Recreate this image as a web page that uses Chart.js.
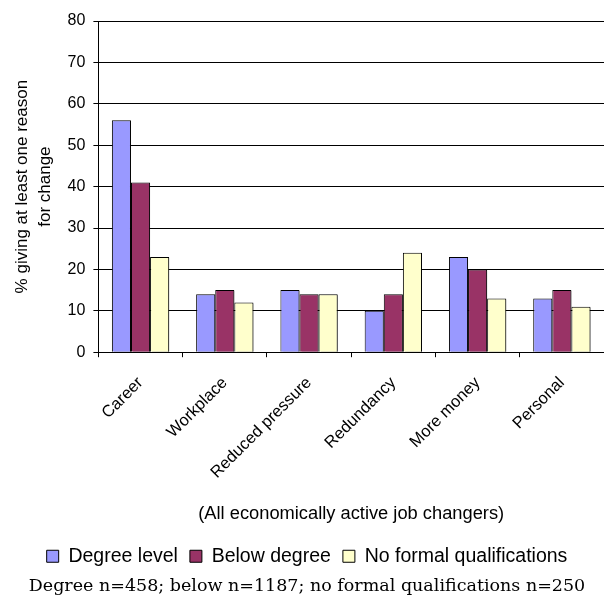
<!DOCTYPE html>
<html>
<head>
<meta charset="utf-8">
<script src="https://cdn.jsdelivr.net/npm/chart.js@4"></script>
<style>
  html, body { margin: 0; padding: 0; background: #fff; }
  #wrap { width: 604px; height: 597px; }
</style>
</head>
<body>
<div id="wrap"><canvas id="chart"></canvas></div>
<script>
const categorias = ["Career", "Workplace", "Reduced pressure", "Redundancy", "More money", "Personal"];
const grau = [56, 14, 15, 10, 23, 13];
const abaixoGrau = [41, 15, 14, 14, 20, 15];
const semQualificacao = [23, 12, 14, 24, 13, 11];
const yTicks = [0, 10, 20, 30, 40, 50, 60, 70, 80];

const sans = "'Liberation Sans', Arial, sans-serif";
const preto = "#000000";

// sombra cinza nas barras, como no gráfico original
const sombra = {
  id: "sombra",
  beforeDatasetsDraw(chart) {
    const ctx = chart.ctx;
    ctx.save();
    ctx.shadowColor = "rgba(0,0,0,0.35)";
    ctx.shadowOffsetX = 2;
    ctx.shadowOffsetY = 1;
    ctx.shadowBlur = 0;
  },
  afterDatasetsDraw(chart) {
    chart.ctx.restore();
  }
};

new Chart(document.getElementById("chart"), {
  type: "bar",
  data: {
    labels: categorias,
    datasets: [
      {
        label: "Degree level",
        data: grau,
        backgroundColor: "#9999ff",
        borderColor: preto,
        borderWidth: 1
      },
      {
        label: "Below degree",
        data: abaixoGrau,
        backgroundColor: "#993366",
        borderColor: preto,
        borderWidth: 1
      },
      {
        label: "No formal qualifications",
        data: semQualificacao,
        backgroundColor: "#ffffcc",
        borderColor: preto,
        borderWidth: 1
      }
    ]
  },
  plugins: [sombra],
  options: {
    responsive: true,
    maintainAspectRatio: false,
    animation: false,
    layout: {
      padding: { top: 21, right: 0, left: 10, bottom: 0 }
    },
    datasets: {
      bar: {
        barPercentage: 1,
        categoryPercentage: 0.68
      }
    },
    plugins: {
      legend: {
        position: "bottom",
        labels: {
          color: preto,
          font: { family: sans, size: 19.5 },
          boxWidth: 12,
          boxHeight: 12,
          padding: 12
        }
      },
      title: {
        display: true,
        position: "bottom",
        text: "Degree n=458; below n=1187; no formal qualifications n=250",
        color: preto,
        font: { family: "'DejaVu Serif', serif", size: 17.5, weight: "normal" },
        padding: { top: 0, bottom: 0 }
      },
      tooltip: { enabled: false }
    },
    scales: {
      x: {
        grid: {
          drawOnChartArea: false,
          color: preto,
          tickLength: 5
        },
        border: { color: preto, width: 1 },
        ticks: {
          color: preto,
          font: { family: sans, size: 16.5 },
          maxRotation: 45,
          minRotation: 45,
          padding: 16
        },
        title: {
          display: true,
          text: "(All economically active job changers)",
          color: preto,
          font: { family: sans, size: 18.3 },
          padding: { top: 4, bottom: 10 }
        }
      },
      y: {
        min: 0,
        max: 80,
        afterBuildTicks(axis) {
          axis.ticks = yTicks.map(v => ({ value: v }));
        },
        grid: {
          color: preto,
          tickLength: 5
        },
        border: { color: preto, width: 1 },
        ticks: {
          color: preto,
          font: { family: sans, size: 16 },
          padding: 8
        },
        title: {
          display: true,
          text: ["% giving at least one reason", "for change"],
          color: preto,
          font: { family: sans, size: 17, lineHeight: 1.4 },
          padding: { top: 0, bottom: 2 }
        }
      }
    }
  }
});
</script>
</body>
</html>
